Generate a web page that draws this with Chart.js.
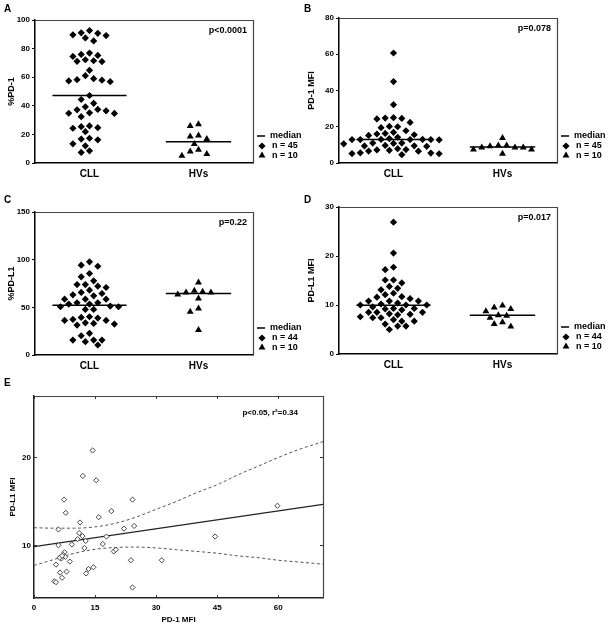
<!DOCTYPE html>
<html>
<head>
<meta charset="utf-8">
<script src="https://cdn.jsdelivr.net/npm/chart.js@4.4.1/dist/chart.umd.min.js"></script>
<style>
  body { margin: 0; background: #fff; width: 609px; height: 629px; position: relative; overflow: hidden; }
  canvas { position: absolute; }
  .tag { position: absolute; font: bold 10px "Liberation Sans", Arial, sans-serif; color: #000; z-index: 2; }
</style>
</head>
<body>
<div class="tag" style="left:4px;top:3px">A</div>
<div class="tag" style="left:304px;top:3px">B</div>
<div class="tag" style="left:4px;top:194px">C</div>
<div class="tag" style="left:304px;top:194px">D</div>
<div class="tag" style="left:4px;top:377px">E</div>

<canvas id="chartA" width="305" height="185" style="left:0;top:0"></canvas>
<canvas id="chartB" width="309" height="185" style="left:300px;top:0"></canvas>
<canvas id="chartC" width="305" height="195" style="left:0;top:190px"></canvas>
<canvas id="chartD" width="309" height="195" style="left:300px;top:190px"></canvas>
<canvas id="chartE" width="340" height="249" style="left:0;top:380px"></canvas>

<script>
// groups on the x axis of panels A-D
var groups = ['CLL', 'HVs']

// A: %PD-1
var pd1PctCLL = [91.0, 89.6, 87.5, 92.6, 85.4, 89.1, 90.7,
  75.9, 74.5, 71.5, 71.1, 70.9, 72.2, 75.2, 76.9, 64.8,
  59.0, 57.9, 56.9, 57.4, 58.3, 61.1,
  47.2, 44.4, 41.7, 39.3, 37.5, 37.2, 36.5, 35.1, 34.8, 34.7, 32.4,
  25.9, 24.7, 21.9, 24.3, 25.4, 17.3, 16.2, 16.7, 13.4, 12.0, 7.4, 8.5]
var pd1PctHV = [27.1, 25.9, 16.7, 19.2, 18.5, 13.2, 8.1, 9.3, 5.1, 6.3]
var pd1PctMedian = [47.2, 14.8]

// B: PD-1 MFI
var pd1MfiCLL = [60.7, 44.9, 32.2, 24.8, 24.3, 25.0, 24.6, 22.4, 20.2, 19.5, 20.0,
  17.8, 16.9, 16.0, 15.6, 15.2, 16.3,
  12.9, 12.9, 13.0, 14.2, 13.5, 12.8, 12.9, 13.0, 12.9,
  9.7, 9.4, 10.8, 11.0, 10.6, 11.0, 9.5, 9.2,
  7.0, 6.5, 7.9, 7.4, 6.6, 7.2, 5.6, 5.2, 5.1, 4.6, 5.5]
var pd1MfiHV = [13.8, 9.2, 8.6, 7.4, 9.7, 5.1, 7.4, 8.6, 8.6, 9.6]
var pd1MfiMedian = [12.9, 8.8]

// C: %PD-L1
var pdl1PctCLL = [97.7, 94.2, 93.1, 85.5, 82.0, 77.8, 73.9, 73.9, 70.8, 72.2,
  65.6, 68.0, 63.1, 64.5, 62.1, 58.6, 58.6, 58.6, 54.8, 53.4, 54.8, 53.4,
  50.6, 47.8, 47.8, 50.6, 51.3, 39.4, 38.7, 36.3, 40.1, 36.3, 37.3,
  33.1, 31.4, 32.4, 33.8, 22.7, 20.2, 15.7, 15.7, 14.0, 15.7, 10.5]
var pdl1PctHV = [76.0, 66.3, 65.6, 63.5, 65.6, 67.3, 59.3, 48.8, 45.3, 26.2]
var pdl1PctMedian = [52.3, 64.5]

// D: PD-L1 MFI
var pdl1MfiCLL = [26.9, 20.6, 17.2, 17.7, 15.1, 15.1, 14.5, 13.4, 13.8, 13.1,
  12.4, 12.1, 11.7, 11.3, 11.6, 10.8, 10.4, 10.8, 10.8, 10.0, 9.6, 10.2,
  10.0, 10.0, 9.3, 9.0, 9.2, 9.3, 8.2, 8.0, 8.5, 8.5, 8.1, 8.5,
  7.4, 7.0, 7.4, 7.6, 6.7, 6.7, 5.7, 5.7, 6.1, 5.0]
var pdl1MfiHV = [9.2, 9.5, 9.9, 8.7, 7.9, 7.8, 7.4, 6.5, 5.6, 6.1]
var pdl1MfiMedian = [9.95, 7.9]

var pValues = ['p<0.0001', 'p=0.078', 'p=0.22', 'p=0.017']

// E: PD-1 MFI vs PD-L1 MFI
var corrPd1Mfi = [14.4, 12.0, 15.3, 7.4, 24.2, 7.8, 19.0, 15.9, 11.3, 6.0,
  22.1, 24.6, 11.1, 11.9, 10.7, 12.7, 17.8, 6.0, 9.3, 12.4,
  16.9, 19.6, 20.1, 7.5, 7.2, 6.7, 7.7, 6.3, 6.9, 8.8,
  5.4, 8.0, 6.4, 13.4, 14.6, 12.8, 6.9, 5.0, 5.4, 23.8,
  24.2, 31.4, 44.5, 59.8]
var corrPdl1Mfi = [20.8, 17.9, 17.4, 15.2, 15.2, 13.7, 13.9, 13.2, 12.6, 11.8,
  11.9, 12.2, 11.4, 11.05, 10.7, 10.5, 11.0, 10.0, 10.1, 9.7,
  10.15, 9.3, 9.5, 9.2, 8.9, 8.5, 8.7, 8.6, 8.8, 8.15,
  7.8, 7.0, 6.9, 7.3, 7.5, 6.8, 6.3, 5.9, 5.8, 8.3,
  5.2, 8.3, 11.0, 14.5]
var fitX = [0, 71]
var fitY = [9.85, 14.65]
var bandX = [0, 5, 10, 15, 20, 25, 30, 35, 40, 45, 50, 55, 60, 65, 71]
var bandUpper = [12.0, 11.95, 11.95, 12.1, 12.5, 13.2, 14.1, 15.0, 16.0, 16.9, 18.0, 19.0, 20.0, 20.9, 21.8]
var bandLower = [7.7, 8.4, 9.1, 9.55, 9.75, 9.8, 9.7, 9.5, 9.3, 9.1, 8.8, 8.6, 8.3, 8.1, 7.85]
var xTicksE = [0, 15, 30, 45, 60]
var yTicksE = [10, 20]
var statE = 'p<0.05, r\u00b2=0.34'

var FONT = '"Liberation Sans", Arial, sans-serif'
Chart.defaults.font.family = FONT
Chart.defaults.color = '#000'

// thin top/right lines closing the plot box
var framePlugin = {
  id: 'frame',
  beforeDatasetsDraw: function (chart) {
    var ctx = chart.ctx, a = chart.chartArea
    ctx.save()
    ctx.strokeStyle = '#444'
    ctx.lineWidth = 1.2
    ctx.beginPath()
    ctx.moveTo(a.left, a.top + 0.5)
    ctx.lineTo(a.right + 0.5, a.top + 0.5)
    ctx.lineTo(a.right + 0.5, a.bottom)
    ctx.stroke()
    ctx.restore()
  }
}

// p value and the median / n key at the right of panels A-D
var keyPlugin = {
  id: 'key',
  afterDraw: function (chart, args, opts) {
    var ctx = chart.ctx, a = chart.chartArea
    ctx.save()
    ctx.fillStyle = '#000'
    ctx.strokeStyle = '#000'
    ctx.font = 'bold 9px ' + FONT
    ctx.textBaseline = 'middle'
    ctx.textAlign = 'right'
    ctx.fillText(opts.p, a.right - 6, a.top + 11)
    ctx.textAlign = 'left'
    var y0 = a.bottom - 27
    ctx.lineWidth = 1.5
    ctx.beginPath()
    ctx.moveTo(a.right + 4, y0)
    ctx.lineTo(a.right + 12, y0)
    ctx.stroke()
    ctx.fillText('median', a.right + 17, y0)
    Chart.helpers.drawPoint(ctx, { pointStyle: 'rectRot', radius: 3.6, borderWidth: 0 }, a.right + 9, y0 + 10)
    ctx.fillText('n = ' + opts.n[0], a.right + 19, y0 + 10)
    Chart.helpers.drawPoint(ctx, { pointStyle: 'triangle', radius: 4, borderWidth: 0 }, a.right + 9, y0 + 19.5)
    ctx.fillText('n = ' + opts.n[1], a.right + 19, y0 + 19.5)
    ctx.restore()
  }
}

// spread one column of points sideways so markers don't overlap
function swarm (chart, index, center) {
  var xs = chart.scales.x, ys = chart.scales.y
  var slotPx = 8.3, rowPx = 10
  var slot = xs.getValueForPixel(xs.getPixelForValue(center) + slotPx) - center
  var pts = chart.data.datasets[index].data
  var order = pts.map(function (p, i) { return i }).sort(function (a, b) { return pts[b].y - pts[a].y })
  var placed = []
  order.forEach(function (i) {
    var py = ys.getPixelForValue(pts[i].y)
    for (var k = 0; k < 60; k++) {
      var off = (k % 2 ? -1 : 1) * Math.ceil(k / 2) * 0.5
      var px = off * slotPx
      // diamond-shaped clearance, like the markers themselves
      var free = placed.every(function (q) {
        return Math.abs(q.px - px) / slotPx + Math.abs(q.py - py) / rowPx >= 0.98
      })
      if (free) {
        placed.push({ px: px, py: py })
        pts[i].x = center + off * slot
        break
      }
    }
  })
}

function dotPanel (id, cll, hv, median, yMax, step, yTitle, p, leftW, bottomH, padTop) {
  var chart = new Chart(document.getElementById(id), {
    type: 'scatter',
    data: {
      datasets: [
        { data: cll.map(function (v) { return { x: 1, y: v } }), pointStyle: 'rectRot', pointRadius: 3.6, backgroundColor: '#000', borderWidth: 0 },
        { data: hv.map(function (v) { return { x: 2, y: v } }), pointStyle: 'triangle', pointRadius: 4, backgroundColor: '#000', borderWidth: 0 },
        { type: 'line', data: [{ x: 1 - 0.34, y: median[0] }, { x: 1 + 0.34, y: median[0] }], borderColor: '#000', borderWidth: 1.5, pointRadius: 0 },
        { type: 'line', data: [{ x: 2 - 0.3, y: median[1] }, { x: 2 + 0.3, y: median[1] }], borderColor: '#000', borderWidth: 1.5, pointRadius: 0 }
      ]
    },
    options: {
      responsive: false,
      animation: false,
      layout: { padding: { top: padTop, right: 52, left: 0, bottom: 0 } },
      plugins: {
        legend: { display: false },
        tooltip: { enabled: false },
        key: { p: p, n: [cll.length, hv.length] }
      },
      scales: {
        x: {
          type: 'linear',
          min: 0.5,
          max: 2.5,
          afterBuildTicks: function (s) { s.ticks = [{ value: 1 }, { value: 2 }] },
          afterFit: function (s) { s.height = bottomH },
          ticks: { callback: function (v) { return groups[v - 1] }, font: { size: 10, weight: 'bold' }, padding: 5, maxRotation: 0 },
          grid: { display: false, drawTicks: false },
          border: { color: '#000', width: 1.5 }
        },
        y: {
          min: 0,
          max: yMax,
          afterFit: function (s) { s.width = leftW },
          ticks: { stepSize: step, font: { size: 8, weight: 'bold' }, padding: 2 },
          grid: { drawOnChartArea: false, tickLength: 3, color: '#000' },
          border: { color: '#000', width: 1.5 },
          title: { display: true, text: yTitle, font: { size: 9, weight: 'bold' }, padding: { top: 6, bottom: 0 } }
        }
      }
    },
    plugins: [framePlugin, keyPlugin]
  })
  swarm(chart, 0, 1)
  swarm(chart, 1, 2)
  chart.update('none')
  return chart
}

dotPanel('chartA', pd1PctCLL, pd1PctHV, pd1PctMedian, 100, 20, '%PD-1', pValues[0], 35, 22, 20)
dotPanel('chartB', pd1MfiCLL, pd1MfiHV, pd1MfiMedian, 80, 20, 'PD-1 MFI', pValues[1], 39, 22, 18)
dotPanel('chartC', pdl1PctCLL, pdl1PctHV, pdl1PctMedian, 150, 50, '%PD-L1', pValues[2], 35, 30, 22)
dotPanel('chartD', pdl1MfiCLL, pdl1MfiHV, pdl1MfiMedian, 30, 10, 'PD-L1 MFI', pValues[3], 39, 31, 17)

//-------------------
// - E: correlation -
//-------------------
var innerTicks = {
  id: 'innerTicks',
  afterDatasetsDraw: function (chart, args, opts) {
    var ctx = chart.ctx, a = chart.chartArea, x = chart.scales.x, y = chart.scales.y
    ctx.save()
    ctx.strokeStyle = '#333'
    ctx.lineWidth = 1
    ctx.beginPath()
    x.ticks.forEach(function (t) {
      var px = Math.round(x.getPixelForValue(t.value)) + 0.5
      ctx.moveTo(px, a.bottom); ctx.lineTo(px, a.bottom - 3)
      ctx.moveTo(px, a.top); ctx.lineTo(px, a.top + 3)
    })
    y.ticks.forEach(function (t) {
      var py = Math.round(y.getPixelForValue(t.value)) + 0.5
      ctx.moveTo(a.left, py); ctx.lineTo(a.left + 3, py)
      ctx.moveTo(a.right, py); ctx.lineTo(a.right - 3, py)
    })
    ctx.stroke()
    ctx.fillStyle = '#000'
    ctx.font = 'bold 8px ' + FONT
    ctx.textAlign = 'right'
    ctx.textBaseline = 'middle'
    ctx.fillText(opts.stat, a.right - 25, a.top + 17)
    ctx.restore()
  }
}

new Chart(document.getElementById('chartE'), {
  type: 'scatter',
  data: {
    datasets: [
      {
        data: corrPd1Mfi.map(function (v, i) { return { x: v, y: corrPdl1Mfi[i] } }),
        pointStyle: 'rectRot', pointRadius: 2.6, backgroundColor: '#fff', borderColor: '#333', borderWidth: 0.9
      },
      {
        type: 'line', data: fitX.map(function (v, i) { return { x: v, y: fitY[i] } }),
        borderColor: '#222', borderWidth: 1.2, pointRadius: 0
      },
      {
        type: 'line', data: bandX.map(function (v, i) { return { x: v, y: bandUpper[i] } }),
        borderColor: '#555', borderWidth: 1, borderDash: [3, 2.5], pointRadius: 0, cubicInterpolationMode: 'monotone'
      },
      {
        type: 'line', data: bandX.map(function (v, i) { return { x: v, y: bandLower[i] } }),
        borderColor: '#555', borderWidth: 1, borderDash: [3, 2.5], pointRadius: 0, cubicInterpolationMode: 'monotone'
      }
    ]
  },
  options: {
    responsive: false,
    animation: false,
    layout: { padding: { top: 16, right: 17, left: 0, bottom: 0 } },
    plugins: {
      legend: { display: false },
      tooltip: { enabled: false },
      innerTicks: { stat: statE }
    },
    scales: {
      x: {
        type: 'linear',
        min: 0,
        max: 71,
        afterBuildTicks: function (s) { s.ticks = xTicksE.map(function (v) { return { value: v } }) },
        afterFit: function (s) { s.height = 31 },
        ticks: { font: { size: 8, weight: 'bold' }, padding: 5, maxRotation: 0 },
        grid: { display: false, drawTicks: false },
        border: { color: '#222', width: 1.5 },
        title: { display: true, text: 'PD-1 MFI', font: { size: 8, weight: 'bold' }, padding: { top: 0, bottom: 4 } }
      },
      y: {
        min: 4,
        max: 27,
        afterBuildTicks: function (s) { s.ticks = yTicksE.map(function (v) { return { value: v } }) },
        afterFit: function (s) { s.width = 34 },
        ticks: { font: { size: 8, weight: 'bold' }, padding: 3 },
        grid: { display: false, drawTicks: false },
        border: { color: '#222', width: 1.5 },
        title: { display: true, text: 'PD-L1 MFI', font: { size: 8, weight: 'bold' }, padding: { top: 8, bottom: 0 } }
      }
    }
  },
  plugins: [framePlugin, innerTicks]
})
</script>
</body>
</html>
